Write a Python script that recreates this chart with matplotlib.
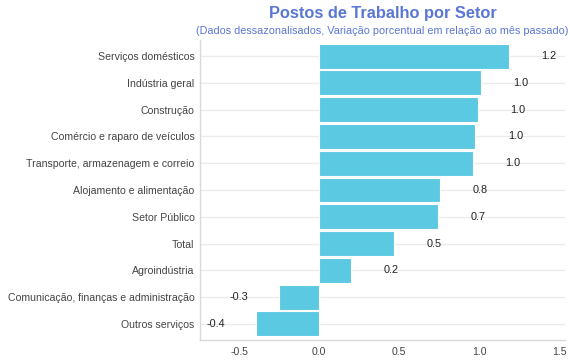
import matplotlib.pyplot as plt

plt.rcParams['font.family'] = ['Liberation Sans', 'DejaVu Sans']

# Data (top to bottom)
sectors = ["Serviços domésticos", "Indústria geral", "Construção",
           "Comércio e raparo de veículos", "Transporte, armazenagem e correio",
           "Alojamento e alimentação", "Setor Público", "Total", "Agroindústria",
           "Comunicação, finanças e administração", "Outros serviços"]
values = [1.186, 1.011, 0.992, 0.975, 0.958, 0.754, 0.742, 0.467, 0.198, -0.25, -0.396]
value_labels = ["1.2", "1.0", "1.0", "1.0", "1.0", "0.8", "0.7", "0.5", "0.2", "-0.3", "-0.4"]
xticks = [-0.5, 0.0, 0.5, 1.0, 1.5]

fig = plt.figure(figsize=(5.7, 3.6), dpi=100)
ax = fig.add_axes([0.351, 0.0556, 0.640, 0.8333])

ypos = list(range(len(sectors)))
ax.barh(ypos, values, height=0.93, color='#5bc9e1', edgecolor='white', linewidth=0.8, zorder=3)

for y, v, lab in zip(ypos, values, value_labels):
    off = 0.25 if v >= 0 else -0.25
    ax.text(v + off, y, lab, ha='center', va='center', fontsize=7.8, color='#222222', zorder=4)

ax.set_yticks(ypos)
ax.set_yticklabels(sectors)
ax.set_ylim(len(sectors) - 0.4, -0.6)
ax.set_xlim(-0.745, 1.535)
ax.set_xticks(xticks)
ax.set_xticklabels([f"{t:.1f}" for t in xticks])

ax.grid(axis='y', color='#ebebeb', linewidth=1, zorder=0)
ax.tick_params(axis='both', length=0, labelsize=7.6, labelcolor='#444444', pad=4)
ax.tick_params(axis='x', pad=5)
for s in ['top', 'right']:
    ax.spines[s].set_visible(False)
for s in ['left', 'bottom']:
    ax.spines[s].set_color('#d9d9d9')
    ax.spines[s].set_linewidth(1)

fig.text(0.671, 0.962, "Postos de Trabalho por Setor", ha='center', va='center',
         fontsize=11.8, fontweight='bold', color='#5a77d4')
fig.text(0.671, 0.915, "(Dados dessazonalisados, Variação porcentual em relação ao mês passado)",
         ha='center', va='center', fontsize=7.8, color='#5a77d4')

fig.savefig('out.png', dpi=100)
